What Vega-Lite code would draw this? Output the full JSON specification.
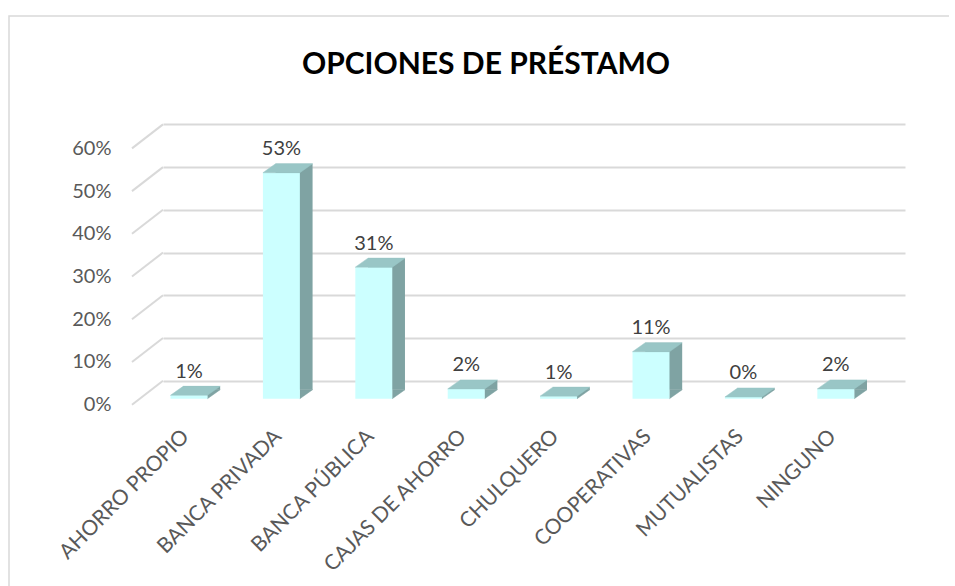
{
  "$schema": "https://vega.github.io/schema/vega-lite/v6.json",
  "width": 946,
  "height": 570,
  "autosize": {"type": "none"},
  "padding": {"left": 9, "top": 16, "right": 0, "bottom": 0},
  "background": "white",
  "title": {"text": "OPCIONES DE PRÉSTAMO", "anchor": "middle", "frame": "group", "font": "Lato", "fontSize": 30, "fontWeight": "bold", "color": "#000000", "baseline": "alphabetic", "offset": -57, "dx": 4, "dy": 31},
  "datasets": {
    "bars": [
      {"k": "AHORRO PROPIO", "v": 0.008},
      {"k": "BANCA PRIVADA", "v": 0.529},
      {"k": "BANCA PÚBLICA", "v": 0.308},
      {"k": "CAJAS DE AHORRO", "v": 0.023},
      {"k": "CHULQUERO", "v": 0.006},
      {"k": "COOPERATIVAS", "v": 0.11},
      {"k": "MUTUALISTAS", "v": 0.004},
      {"k": "NINGUNO", "v": 0.023}
    ],
    "grid": [{"v": 0}, {"v": 0.1}, {"v": 0.2}, {"v": 0.3}, {"v": 0.4}, {"v": 0.5}, {"v": 0.6}]
  },
  "data": {"name": "bars"},
  "layer": [
    {
      "data": {"name": "grid"},
      "mark": {"type": "point", "shape": "M-57,6L-26,-18", "size": 4, "filled": false, "stroke": "#d9d9d9", "strokeWidth": 2, "opacity": 1},
      "encoding": {
        "x": {"datum": "AHORRO PROPIO", "type": "nominal", "axis": {"title": null}},
        "y": {"field": "v", "type": "quantitative",
          "scale": {"domain": [0, 0.6], "range": [382.7, 126.4], "nice": false, "zero": true},
          "axis": {"title": null, "values": [0, 0.1, 0.2, 0.3, 0.4, 0.5, 0.6], "format": ".0%", "orient": "left", "offset": -102, "domain": false, "ticks": false, "tickSize": 0, "tickOffset": -18, "labelOffset": 24, "labelPadding": 0, "labelFont": "Lato", "labelFontSize": 20, "labelColor": "#595959", "labelFlush": false, "grid": true, "gridColor": "#d9d9d9", "gridWidth": 2}}
      }
    },
    {
      "mark": {"type": "bar", "xOffset": 12.7, "yOffset": -9, "y2Offset": -9, "color": "#7FA3A3"},
      "encoding": {
        "x": {"field": "k", "type": "nominal", "sort": null,
          "scale": {"domain": ["AHORRO PROPIO", "BANCA PRIVADA", "BANCA PÚBLICA", "CAJAS DE AHORRO", "CHULQUERO", "COOPERATIVAS", "MUTUALISTAS", "NINGUNO"], "range": [154, 896], "paddingInner": 0.6, "paddingOuter": 0.315, "align": 0.129},
          "axis": {"title": null, "orient": "bottom", "offset": -153, "labelAngle": -45, "labelAlign": "right", "labelBaseline": "middle", "labelOffset": -3, "domain": false, "ticks": false, "tickSize": 0, "labelPadding": 0, "labelFont": "Lato", "labelFontSize": 21, "labelColor": "#595959", "labelLimit": 400, "grid": false}},
        "y": {"field": "v", "type": "quantitative", "axis": {"title": null}}
      }
    },
    {
      "mark": {"type": "point", "shape": "M18.48,0L31.18,-9L18.48,-9Z", "size": 4, "filled": true, "fill": "#7FA3A3", "stroke": "#7FA3A3", "strokeWidth": 0.5, "opacity": 1},
      "encoding": {
        "x": {"field": "k", "type": "nominal", "sort": null, "axis": {"title": null}},
        "y": {"datum": 0, "type": "quantitative", "axis": {"title": null}}
      }
    },
    {
      "mark": {"type": "bar", "color": "#CCFFFF"},
      "encoding": {
        "x": {"field": "k", "type": "nominal", "sort": null, "axis": {"title": null}},
        "y": {"field": "v", "type": "quantitative", "axis": {"title": null}}
      }
    },
    {
      "mark": {"type": "point", "shape": "M-18.48,0L18.48,0L31.18,-9L-5.78,-9Z", "size": 4, "filled": true, "fill": "#99C6C6", "stroke": "#99C6C6", "strokeWidth": 0.5, "opacity": 1},
      "encoding": {
        "x": {"field": "k", "type": "nominal", "sort": null, "axis": {"title": null}},
        "y": {"field": "v", "type": "quantitative", "axis": {"title": null}}
      }
    },
    {
      "mark": {"type": "text", "dy": -17.5, "font": "Lato", "fontSize": 20, "color": "#404040", "baseline": "alphabetic", "align": "center"},
      "encoding": {
        "x": {"field": "k", "type": "nominal", "sort": null, "axis": {"title": null}},
        "y": {"field": "v", "type": "quantitative", "axis": {"title": null}},
        "text": {"field": "v", "type": "quantitative", "format": ".0%"}
      }
    }
  ],
  "config": {
    "view": {"stroke": "#d9d9d9", "strokeWidth": 1.5, "strokeDash": [940, 1522, 570]}
  }
}
